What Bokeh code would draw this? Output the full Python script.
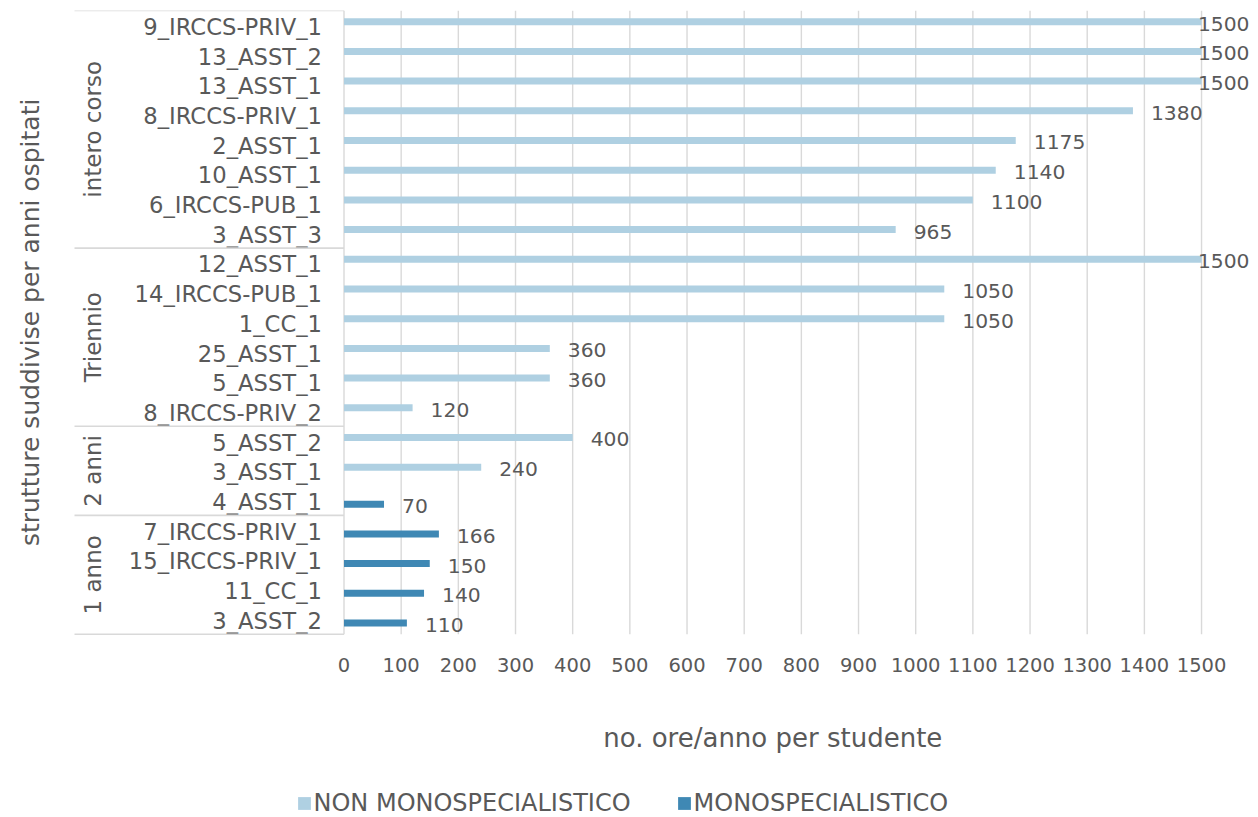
import math

from bokeh.core.properties import value
from bokeh.embed import file_html
from bokeh.models import ColumnDataSource, Legend, LegendItem, Range1d
from bokeh.plotting import figure
from bokeh.resources import INLINE

# --- data -----------------------------------------------------------------
group_names = ["intero corso", "Triennio", "2 anni", "1 anno"]
group_sizes = [8, 6, 3, 4]

structures = [
    "9_IRCCS-PRIV_1", "13_ASST_2", "13_ASST_1", "8_IRCCS-PRIV_1", "2_ASST_1",
    "10_ASST_1", "6_IRCCS-PUB_1", "3_ASST_3",
    "12_ASST_1", "14_IRCCS-PUB_1", "1_CC_1", "25_ASST_1", "5_ASST_1",
    "8_IRCCS-PRIV_2",
    "5_ASST_2", "3_ASST_1", "4_ASST_1",
    "7_IRCCS-PRIV_1", "15_IRCCS-PRIV_1", "11_CC_1", "3_ASST_2",
]

nan = float("nan")
hours_non_mono = [1500, 1500, 1500, 1380, 1175, 1140, 1100, 965,
                  1500, 1050, 1050, 360, 360, 120,
                  400, 240, nan,
                  nan, nan, nan, nan]
hours_mono = [nan] * 16 + [70, 166, 150, 140, 110]

x_ticks = [0, 100, 200, 300, 400, 500, 600, 700, 800, 900, 1000,
           1100, 1200, 1300, 1400, 1500]

series_labels = ["NON MONOSPECIALISTICO", "MONOSPECIALISTICO"]
series_colors = ["#AFD0E2", "#3F88B4"]

x_title = "no. ore/anno per studente"
y_title = "strutture suddivise per anni ospitati"

# --- styling --------------------------------------------------------------
FONT = "DejaVu Sans"
TXT = "#595959"
GRID = "#D9D9D9"
BAR_H = 0.236          # bar thickness in category units
DODGE = 0.123          # offset of each series inside its category
PX_PER_CAT = 29.7      # height of one category row, px
PX_PER_HOUR = 0.5717   # horizontal scale, px per hour
ZERO_PX = 343.5        # where the value axis starts, px from the left

FRAME_W, FRAME_H = 1258, 807
x_start = -ZERO_PX / PX_PER_HOUR
x_end = x_start + FRAME_W / PX_PER_HOUR
x_box = x_start + 74 / PX_PER_HOUR        # left edge of the category box
n = len(structures)
y_top = -0.5
y_bottom = y_top + FRAME_H / PX_PER_CAT
cat_end = n - 0.5      # lower edge of the last category row

p = figure(
    frame_width=FRAME_W, frame_height=FRAME_H,
    x_range=Range1d(x_start, x_end),
    y_range=Range1d(y_bottom, y_top),
    output_backend="svg", toolbar_location=None,
    min_border_left=0, min_border_right=0, min_border_top=10,
    min_border_bottom=0,
    outline_line_color=None, background_fill_color=None,
    border_fill_color="white",
)
p.xaxis.visible = False
p.yaxis.visible = False
p.xgrid.grid_line_color = None
p.ygrid.grid_line_color = None

# --- value axis: grid lines and tick labels --------------------------------
p.segment(x0=x_ticks, x1=x_ticks, y0=[y_top] * len(x_ticks),
          y1=[cat_end] * len(x_ticks), line_color=GRID, line_width=1.4)
tick_src = ColumnDataSource(dict(x=x_ticks, y=[cat_end] * len(x_ticks),
                                 t=[str(t) for t in x_ticks]))
p.text(x="x", y="y", text="t", source=tick_src, y_offset=31,
       text_align="center", text_baseline="middle",
       text_font=value(FONT), text_font_size="19.5px", text_color=TXT)

# --- bars -------------------------------------------------------------------
def series_source(vals, shift):
    rows = [(i, v) for i, v in enumerate(vals) if not math.isnan(v)]
    return ColumnDataSource(dict(
        y=[i + shift for i, _ in rows],
        v=[v for _, v in rows],
        txt=[str(int(v)) for _, v in rows],
    ))

src_light = series_source(hours_non_mono, -DODGE)
src_dark = series_source(hours_mono, DODGE)

r_light = p.hbar(y="y", left=0, right="v", height=BAR_H, source=src_light,
                 fill_color=series_colors[0], line_color=None)
r_dark = p.hbar(y="y", left=0, right="v", height=BAR_H, source=src_dark,
                fill_color=series_colors[1], line_color=None)

# --- value labels (kept inside the chart at the right edge) ---------------
label_limit = max(x_ticks) * 0.976
for src in (src_light, src_dark):
    d = src.data
    inside = [k for k, v in enumerate(d["v"]) if v < label_limit]
    edge = [k for k, v in enumerate(d["v"]) if v >= label_limit]
    s_in = ColumnDataSource(dict(x=[d["v"][k] for k in inside],
                                 y=[d["y"][k] for k in inside],
                                 t=[d["txt"][k] for k in inside]))
    s_edge = ColumnDataSource(dict(x=[x_end for _ in edge],
                                   y=[d["y"][k] for k in edge],
                                   t=[d["txt"][k] for k in edge]))
    p.text(x="x", y="y", text="t", source=s_in, x_offset=18, y_offset=2,
           text_align="left", text_baseline="middle",
           text_font=value(FONT), text_font_size="20.3px", text_color=TXT)
    p.text(x="x", y="y", text="t", source=s_edge, x_offset=-9, y_offset=2,
           text_align="right", text_baseline="middle",
           text_font=value(FONT), text_font_size="20.3px", text_color=TXT)

# --- two-level category axis ------------------------------------------------
cat_src = ColumnDataSource(dict(x=[0] * n, y=list(range(n)), t=structures))
p.text(x="x", y="y", text="t", source=cat_src, x_offset=-22, y_offset=1.5,
       text_align="right", text_baseline="middle",
       text_font=value(FONT), text_font_size="22.7px", text_color=TXT)

bounds = [y_top]
for size in group_sizes:
    bounds.append(bounds[-1] + size)
p.segment(x0=[x_box] * len(bounds), x1=[0] * len(bounds),
          y0=bounds, y1=bounds, line_color=GRID, line_width=1.6)

grp_src = ColumnDataSource(dict(
    x=[x_box] * len(group_names),
    y=[(a + b) / 2 for a, b in zip(bounds[:-1], bounds[1:])],
    t=group_names,
))
p.text(x="x", y="y", text="t", source=grp_src, x_offset=18, angle=math.pi / 2,
       text_align="center", text_baseline="middle",
       text_font=value(FONT), text_font_size="23px", text_color=TXT)

# --- axis titles ------------------------------------------------------------
ytitle_src = ColumnDataSource(dict(x=[x_start], y=[(y_top + cat_end) / 2],
                                   t=[y_title]))
p.text(x="x", y="y", text="t", source=ytitle_src, x_offset=30,
       angle=math.pi / 2, text_align="center", text_baseline="middle",
       text_font=value(FONT), text_font_size="25px", text_color=TXT)

xtitle_src = ColumnDataSource(dict(x=[(x_ticks[0] + x_ticks[-1]) / 2],
                                   y=[cat_end], t=[x_title]))
p.text(x="x", y="y", text="t", source=xtitle_src, y_offset=104,
       text_align="center", text_baseline="middle",
       text_font=value(FONT), text_font_size="26px", text_color=TXT)

# --- legend ---------------------------------------------------------------
legend = Legend(
    items=[LegendItem(label=series_labels[0], renderers=[r_light]),
           LegendItem(label=series_labels[1], renderers=[r_dark])],
    orientation="horizontal", location=(295.5, 0),
    border_line_color=None, background_fill_alpha=0,
    glyph_width=16, glyph_height=16, label_standoff=2, spacing=45,
    label_text_font=FONT, label_text_font_size="24px",
    label_text_color=TXT, margin=0, padding=0,
)
p.add_layout(legend)

open("out.html", "w").write(file_html(p, INLINE))
